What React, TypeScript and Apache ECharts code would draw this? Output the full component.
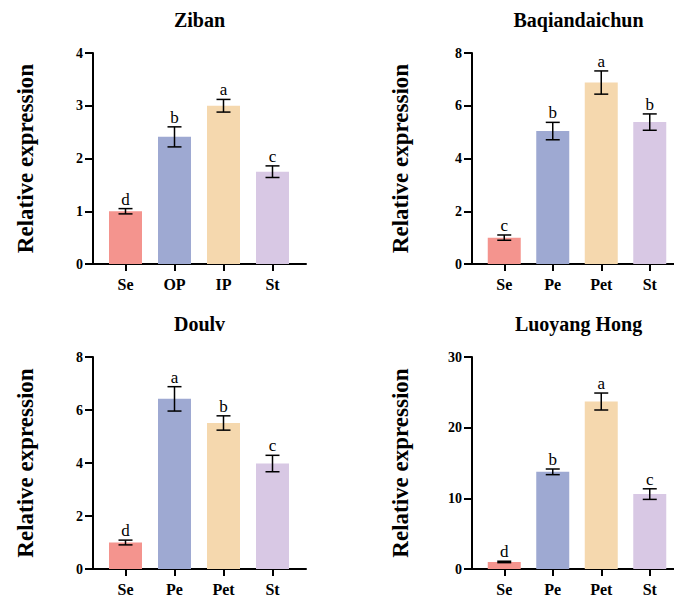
import React, { useEffect, useRef } from "react";
import * as echarts from "echarts";

const categoriesA = ["Se", "OP", "IP", "St"];
const categoriesB = ["Se", "Pe", "Pet", "St"];

const zibanMeans = [1.0, 2.41, 3.0, 1.75];
const zibanErr = [0.05, 0.19, 0.12, 0.11];
const zibanLetters = ["d", "b", "a", "c"];

const baqMeans = [1.0, 5.04, 6.88, 5.38];
const baqErr = [0.1, 0.33, 0.44, 0.31];
const baqLetters = ["c", "b", "a", "b"];

const doulvMeans = [1.0, 6.42, 5.51, 3.98];
const doulvErr = [0.09, 0.46, 0.27, 0.31];
const doulvLetters = ["d", "a", "b", "c"];

const luoMeans = [1.0, 13.75, 23.7, 10.6];
const luoErr = [0.1, 0.4, 1.2, 0.75];
const luoLetters = ["d", "b", "a", "c"];

const titles = ["Ziban", "Baqiandaichun", "Doulv", "Luoyang Hong"];
const yTitle = "Relative expression";
const yMax = [4, 8, 8, 30];
const yInterval = [1, 2, 2, 10];

const barColors = ["#F4948E", "#9EA9D2", "#F5D8AE", "#D8C8E4"];

const FONT = "Times New Roman, Liberation Serif, serif";

export default function App() {
  const ref = useRef<HTMLDivElement>(null);

  useEffect(() => {
    document.body.style.margin = "0";
    if (!ref.current) return;
    const chart = echarts.init(ref.current, undefined, { renderer: "svg" });

    const panels = [
      { cats: categoriesA, means: zibanMeans, errs: zibanErr, letters: zibanLetters },
      { cats: categoriesB, means: baqMeans, errs: baqErr, letters: baqLetters },
      { cats: categoriesB, means: doulvMeans, errs: doulvErr, letters: doulvLetters },
      { cats: categoriesB, means: luoMeans, errs: luoErr, letters: luoLetters },
    ];
    const axisXs = [93, 472, 93, 472];
    const nameXs = [25, 400, 25, 400];
    const tops = [53, 53, 357, 357];
    const heights = [211, 211, 212, 212];

    const grid: any[] = [];
    const xAxis: any[] = [];
    const yAxis: any[] = [];
    const series: any[] = [];
    const graphic: any[] = [];

    panels.forEach((p, i) => {
      const a = 2 * i;
      const b = 2 * i + 1;
      grid.push({ left: axisXs[i], top: tops[i], width: 213, height: heights[i] });
      grid.push({ left: axisXs[i] + 8, top: tops[i], width: 196, height: heights[i] });

      xAxis.push({
        gridIndex: a,
        type: "value",
        min: 0,
        max: 1,
        axisLine: { show: true, onZero: false, lineStyle: { color: "#000", width: 2 } },
        axisTick: { show: false },
        axisLabel: { show: false },
        splitLine: { show: false },
      });
      yAxis.push({
        gridIndex: a,
        type: "value",
        min: 0,
        max: yMax[i],
        interval: yInterval[i],
        axisLine: { show: true, lineStyle: { color: "#000", width: 2 } },
        axisTick: { show: true, inside: false, length: 8, lineStyle: { color: "#000", width: 2 } },
        axisLabel: {
          color: "#000",
          fontFamily: FONT,
          fontWeight: "bold",
          fontSize: 14,
          margin: 10,
        },
        splitLine: { show: false },
      });

      xAxis.push({
        gridIndex: b,
        type: "category",
        data: p.cats,
        axisLine: { show: false },
        axisTick: {
          show: true,
          alignWithLabel: true,
          length: 7,
          lineStyle: { color: "#000", width: 2 },
        },
        axisLabel: {
          color: "#000",
          fontFamily: FONT,
          fontWeight: "bold",
          fontSize: 16,
          margin: 12,
        },
        splitLine: { show: false },
      });
      yAxis.push({
        gridIndex: b,
        type: "value",
        min: 0,
        max: yMax[i],
        interval: yInterval[i],
        show: false,
        splitLine: { show: false },
      });

      series.push({
        type: "bar",
        xAxisIndex: b,
        yAxisIndex: b,
        barWidth: 33,
        data: p.means.map((v, k) => ({ value: v, itemStyle: { color: barColors[k] } })),
      });

      const letters = p.letters;
      series.push({
        type: "custom",
        xAxisIndex: b,
        yAxisIndex: b,
        z: 5,
        encode: { x: 0, y: 1 },
        data: p.means.map((v, k) => [k, v, p.errs[k]]),
        renderItem: (params: any, api: any) => {
          const x = api.value(0);
          const m = api.value(1);
          const e = api.value(2);
          const top = api.coord([x, m + e]);
          const bot = api.coord([x, m - e]);
          const hw = 7;
          const st = { stroke: "#000", lineWidth: 1.5 };
          return {
            type: "group",
            children: [
              { type: "line", shape: { x1: top[0], y1: top[1], x2: bot[0], y2: bot[1] }, style: st },
              { type: "line", shape: { x1: top[0] - hw, y1: top[1], x2: top[0] + hw, y2: top[1] }, style: st },
              { type: "line", shape: { x1: bot[0] - hw, y1: bot[1], x2: bot[0] + hw, y2: bot[1] }, style: st },
              {
                type: "text",
                x: top[0],
                y: top[1] - 1,
                style: {
                  text: letters[params.dataIndex],
                  fill: "#000",
                  fontFamily: FONT,
                  fontSize: 17,
                  align: "center",
                  verticalAlign: "bottom",
                },
              },
            ],
          };
        },
      });

      graphic.push({
        type: "text",
        x: axisXs[i] + 106.5,
        y: tops[i] - 33,
        style: {
          text: titles[i],
          fill: "#000",
          fontFamily: FONT,
          fontWeight: "bold",
          fontSize: 20,
          align: "center",
          verticalAlign: "middle",
        },
      });
      graphic.push({
        type: "text",
        x: nameXs[i],
        y: tops[i] + heights[i] / 2,
        rotation: Math.PI / 2,
        style: {
          text: yTitle,
          fill: "#000",
          fontFamily: FONT,
          fontWeight: "bold",
          fontSize: 23,
          align: "center",
          verticalAlign: "middle",
        },
      });
    });

    chart.setOption({
      animation: false,
      backgroundColor: "#fff",
      textStyle: { fontFamily: FONT },
      grid,
      xAxis,
      yAxis,
      series,
      graphic,
    });

    return () => chart.dispose();
  }, []);

  return <div ref={ref} style={{ width: 674, height: 599 }} />;
}
